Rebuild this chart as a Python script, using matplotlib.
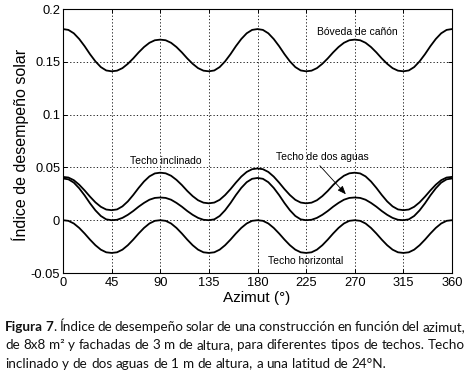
import matplotlib
matplotlib.use("Agg")
import matplotlib.pyplot as plt
import numpy as np

# ---------------- data ----------------
azimut = np.arange(0, 361, 5)

boveda = [0.181, 0.1802, 0.177, 0.1716, 0.1648, 0.1572, 0.1504, 0.145, 0.1418, 0.141,
          0.1416, 0.144, 0.1481, 0.1532, 0.1589, 0.164, 0.168, 0.1704, 0.171,
          0.1704, 0.168, 0.164, 0.1589, 0.1532, 0.1481, 0.144, 0.1416, 0.141,
          0.1418, 0.145, 0.1504, 0.1572, 0.1648, 0.1716, 0.177, 0.1802, 0.181,
          0.1802, 0.177, 0.1716, 0.1648, 0.1572, 0.1504, 0.145, 0.1418, 0.141,
          0.1416, 0.144, 0.1481, 0.1532, 0.1589, 0.164, 0.168, 0.1704, 0.171,
          0.1704, 0.168, 0.164, 0.1589, 0.1532, 0.1481, 0.144, 0.1416, 0.141,
          0.1418, 0.145, 0.1504, 0.1572, 0.1648, 0.1716, 0.177, 0.1802, 0.181]

inclinado = [0.041, 0.0404, 0.0379, 0.0336, 0.0282, 0.0223, 0.0169, 0.0127, 0.0101, 0.0095,
             0.0102, 0.0131, 0.0178, 0.0239, 0.0306, 0.0367, 0.0415, 0.0443, 0.045,
             0.0444, 0.0421, 0.0382, 0.0333, 0.0277, 0.0228, 0.0189, 0.0166, 0.016,
             0.0167, 0.0193, 0.0238, 0.0294, 0.0356, 0.0413, 0.0457, 0.0483, 0.049,
             0.0483, 0.0457, 0.0413, 0.0356, 0.0294, 0.0238, 0.0193, 0.0167, 0.016,
             0.0166, 0.0189, 0.0228, 0.0277, 0.0333, 0.0382, 0.0421, 0.0444, 0.045,
             0.0443, 0.0415, 0.0367, 0.0306, 0.0239, 0.0178, 0.0131, 0.0102, 0.0095,
             0.0101, 0.0127, 0.0169, 0.0223, 0.0282, 0.0336, 0.0379, 0.0404, 0.041]

dos_aguas = [0.0395, 0.0387, 0.0356, 0.0302, 0.0235, 0.016, 0.0093, 0.004, 0.0008, 0.0,
             0.0004, 0.0022, 0.0051, 0.0087, 0.0128, 0.0164, 0.0194, 0.0211, 0.0215,
             0.0211, 0.0194, 0.0164, 0.0128, 0.0087, 0.0051, 0.0022, 0.0004, 0.0,
             0.0008, 0.004, 0.0094, 0.0162, 0.0238, 0.0306, 0.036, 0.0392, 0.04,
             0.0392, 0.036, 0.0306, 0.0238, 0.0162, 0.0094, 0.004, 0.0008, 0.0,
             0.0004, 0.0022, 0.0051, 0.0087, 0.0128, 0.0164, 0.0194, 0.0211, 0.0215,
             0.0211, 0.0194, 0.0164, 0.0128, 0.0087, 0.0051, 0.0022, 0.0004, 0.0,
             0.0008, 0.004, 0.0093, 0.016, 0.0235, 0.0302, 0.0356, 0.0387, 0.0395]

horizontal = [0.0, -0.0006, -0.0031, -0.0073, -0.0126, -0.0184, -0.0237, -0.0279, -0.0304, -0.031,
              -0.0304, -0.0279, -0.0237, -0.0184, -0.0126, -0.0073, -0.0031, -0.0006, 0.0,
              -0.0006, -0.0031, -0.0073, -0.0126, -0.0184, -0.0237, -0.0279, -0.0304, -0.031,
              -0.0304, -0.0279, -0.0237, -0.0184, -0.0126, -0.0073, -0.0031, -0.0006, 0.0,
              -0.0006, -0.0031, -0.0073, -0.0126, -0.0184, -0.0237, -0.0279, -0.0304, -0.031,
              -0.0304, -0.0279, -0.0237, -0.0184, -0.0126, -0.0073, -0.0031, -0.0006, 0.0,
              -0.0006, -0.0031, -0.0073, -0.0126, -0.0184, -0.0237, -0.0279, -0.0304, -0.031,
              -0.0304, -0.0279, -0.0237, -0.0184, -0.0126, -0.0073, -0.0031, -0.0006, 0.0]

x_ticks = [0, 45, 90, 135, 180, 225, 270, 315, 360]
y_ticks = [-0.05, 0, 0.05, 0.1, 0.15, 0.2]
y_tick_labels = ["-0.05", "0", "0.05", "0.1", "0.15", "0.2"]

series_labels = ["Bóveda de cañón", "Techo inclinado", "Techo de dos aguas", "Techo horizontal"]
x_label = "Azimut (°)"
y_label = "Índice de desempeño solar"

caption_lines = [
    [[("Figura", "bold")], [("7", "bold"), (".", "normal")], [("Índice", "normal")], [("de", "normal")],
     [("desempeño", "normal")], [("solar", "normal")], [("de", "normal")], [("una", "normal")],
     [("construcción", "normal")], [("en", "normal")], [("función", "normal")], [("del", "normal")],
     [("azimut,", "normal")]],
    [[(w, "normal")] for w in "de 8x8 m² y fachadas de 3 m de altura, para diferentes tipos de techos. Techo".split(" ")],
    [[(w, "normal")] for w in "inclinado y de dos aguas de 1 m de altura, a una latitud de 24°N.".split(" ")],
]

# ---------------- figure ----------------
W, H = 468, 378
fig = plt.figure(figsize=(W / 100, H / 100), dpi=100)
fig.patch.set_facecolor("white")

ax = fig.add_axes([63 / W, 1 - 273 / H, (452 - 63) / W, (273 - 9) / H])
for ys in (boveda, inclinado, dos_aguas, horizontal):
    ax.plot(azimut, ys, color="black", lw=1.3, solid_joinstyle="round")

ax.set_xlim(0, 360)
ax.set_ylim(-0.05, 0.2)
ax.set_xticks(x_ticks)
ax.set_xticklabels([str(v) for v in x_ticks], fontsize=9.3, family="Liberation Sans")
ax.set_yticks(y_ticks)
ax.set_yticklabels(y_tick_labels, fontsize=9.3, family="Liberation Sans")
ax.tick_params(direction="in", length=3, width=0.7, top=True, right=True)
ax.tick_params(axis="y", pad=2)
ax.tick_params(axis="x", pad=3)
ax.grid(True, color="black", linestyle=(0, (1.5, 2.5)), lw=0.6)
for s in ax.spines.values():
    s.set_linewidth(0.8)

tfont = dict(fontsize=7.5, family="Liberation Sans", color="black", ha="center", va="center")
ax.text(272, 0.178, series_labels[0], **tfont)
ax.text(95, 0.0557, series_labels[1], **tfont)
ax.text(240, 0.0594, series_labels[2], **tfont)
ax.text(225, -0.0387, series_labels[3], **tfont)
ax.annotate("", xy=(263.5, 0.0226), xytext=(236, 0.0535),
            arrowprops=dict(arrowstyle="-|>,head_length=0.5,head_width=0.2", color="black", lw=0.6))

fig.text(20 / W, 1 - 145 / H, y_label, rotation=90, ha="center", va="center",
         fontsize=11.5, family="Liberation Sans")
fig.text(257 / W, 1 - 302 / H, x_label, ha="center", va="baseline",
         fontsize=11, family="Liberation Sans")

# ---------------- caption (justified) ----------------
renderer = fig.canvas.get_renderer()
cap_size = 9.7
cap_family = "Lato"


def text_width(s, weight):
    t = fig.text(0, 0, s, fontsize=cap_size, family=cap_family, weight=weight)
    w = t.get_window_extent(renderer).width
    t.remove()
    return w


space_w = text_width("a a", "normal") - text_width("aa", "normal")


def draw_line(words, baseline, x0, x1, justify):
    widths = [[text_width(p, wt) for p, wt in w] for w in words]
    total = sum(sum(w) for w in widths)
    gap = (x1 - x0 - total) / (len(words) - 1) if justify else space_w
    x = x0
    for w, ws in zip(words, widths):
        for (p, wt), pw in zip(w, ws):
            fig.text(x / W, 1 - baseline / H, p, fontsize=cap_size, family=cap_family,
                     weight=wt, ha="left", va="baseline", color="#111111")
            x += pw
        x += gap


draw_line(caption_lines[0], 331, 5, 465, True)
draw_line(caption_lines[1], 349, 5, 465, True)
draw_line(caption_lines[2], 367.5, 5, 465, False)

fig.savefig("out.png", dpi=100, facecolor="white")
